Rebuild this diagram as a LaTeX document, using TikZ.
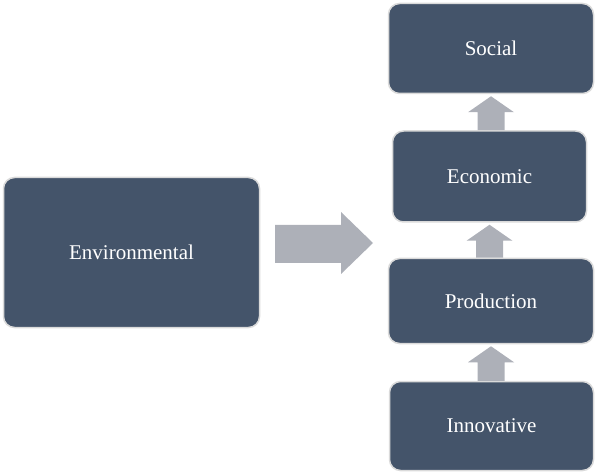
\documentclass[tikz,border=0pt]{standalone}
\usepackage{fontspec}
\setmainfont{Liberation Serif}
\usetikzlibrary{calc}
\definecolor{boxfill}{RGB}{68,84,106}
\definecolor{boxline}{RGB}{218,218,218}
\definecolor{arrowgray}{RGB}{173,176,184}
\tikzset{
  blockbox/.style={draw=boxline, line width=1.5pt, fill=boxfill, rounded corners=11pt,
    text=white, font=\fontsize{21}{25}\selectfont, inner sep=0pt, anchor=center},
}
\newcommand{\blockup}[2]{%
  \fill[arrowgray] let \p1=(#1.north), \p2=(#2.south) in
    (\x2-13.5pt,\y1) -- (\x2-13.5pt,\y2-18pt) -- (\x2-23pt,\y2-18pt) --
    (\x2,\y2-2pt) -- (\x2+23pt,\y2-18pt) -- (\x2+13.5pt,\y2-18pt) --
    (\x2+13.5pt,\y1) -- cycle;}
\begin{document}
\begin{tikzpicture}[x=1pt,y=-1pt]
\useasboundingbox (0,0) rectangle (600,473);
\node[blockbox, minimum width=256pt, minimum height=150pt] (env) at (131.5,252.5) {Environmental};
\node[blockbox, minimum width=205pt, minimum height=90pt] (soc) at (491,48.5) {Social};
\node[blockbox, minimum width=194pt, minimum height=91pt] (eco) at (489.5,176.5) {Economic};
\node[blockbox, minimum width=205pt, minimum height=85pt] (pro) at (491,301) {Production};
\node[blockbox, minimum width=204pt, minimum height=89pt] (inn) at (491.5,426) {Innovative};
\blockup{eco}{soc}
\blockup{pro}{eco}
\blockup{inn}{pro}
\fill[arrowgray] (275,225) -- (341,225) -- (341,212) -- (373,243) -- (341,274) -- (341,263) -- (275,263) -- cycle;
\end{tikzpicture}
\end{document}
